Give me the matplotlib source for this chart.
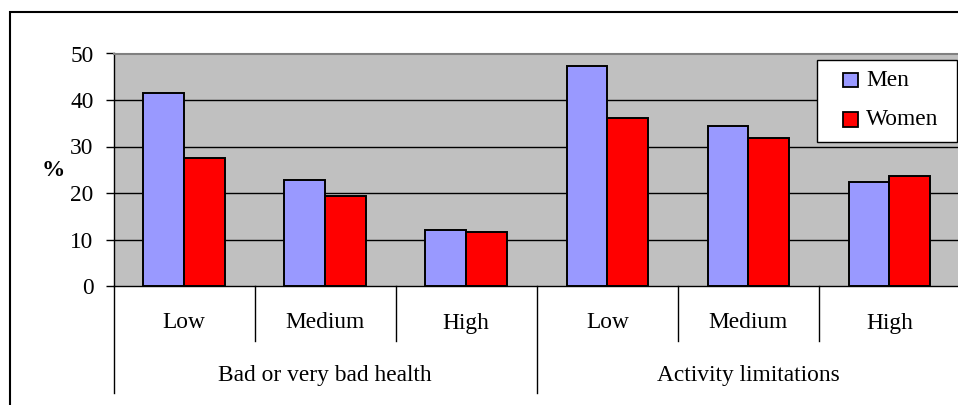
import matplotlib
matplotlib.use("Agg")
import matplotlib.pyplot as plt
from matplotlib.patches import Rectangle
from matplotlib.lines import Line2D
from matplotlib.transforms import Affine2D
import numpy as np

# Survey results (% of people), by education level and sex
groups = ["Bad or very bad health", "Activity limitations"]
levels = ["Low", "Medium", "High"]
series = ["Men", "Women"]
men = [41.4, 22.8, 12.0, 47.4, 34.4, 22.3]
women = [27.5, 19.3, 11.6, 36.1, 31.8, 23.6]
yticks = [0, 10, 20, 30, 40, 50]

plt.rcParams["font.family"] = ["Liberation Serif", "DejaVu Serif"]
FS = 16.8
MEN_C, WOMEN_C = "#9999FF", "#FF0000"

W, H = 958, 405
fig = plt.figure(figsize=(W / 100, H / 100), dpi=100)
# pixel coordinates measured from the top-left corner
px = Affine2D().scale(1 / W, -1 / H).translate(0, 1) + fig.transFigure

# plot area in pixel terms
left_px, right_px, top_px, bottom_px = 113.5, 960.0, 53.5, 286.0
axw = right_px - left_px
axh = bottom_px - top_px
ax = fig.add_axes([left_px / W, 1 - bottom_px / H, axw / W, axh / H])
ax.set_facecolor("#C0C0C0")

n = len(men)
x = np.arange(n)
bw = 0.289
ax.bar(x + 0.5 - bw / 2, men, width=bw, color=MEN_C,
       edgecolor="black", linewidth=1.4, zorder=3)
ax.bar(x + 0.5 + bw / 2, women, width=bw, color=WOMEN_C,
       edgecolor="black", linewidth=1.4, zorder=3)

ax.set_xlim(0, n)
ax.set_ylim(0, 50)
ax.set_yticks(yticks)
ax.set_yticklabels([str(v) for v in yticks], fontsize=FS)
ax.tick_params(axis="y", length=6, width=1, pad=8.4, direction="out")
ax.set_xticks([])
for y in yticks[1:-1]:
    ax.axhline(y, color="black", lw=1, zorder=1)

for side in ("top", "right"):
    ax.spines[side].set_color("#808080")
    ax.spines[side].set_linewidth(1.5)
ax.spines["left"].set_color("black")
ax.spines["left"].set_linewidth(1)
ax.spines["bottom"].set_color("black")
ax.spines["bottom"].set_linewidth(1)

fig.text(53, 170, "%", transform=px, fontsize=FS, fontweight="bold",
         ha="center", va="center")

# two-level category axis
trans = ax.get_xaxis_transform()
inner_y = -(341 - bottom_px) / axh
outer_y = -(392.5 - bottom_px) / axh
for i in range(n + 1):
    low = outer_y if i % 3 == 0 else inner_y
    ax.add_line(Line2D([i, i], [0, low], transform=trans, color="black",
                       lw=1, clip_on=False))
for i in range(n):
    ax.text(i + 0.5, -(323 - bottom_px) / axh, levels[i % 3], transform=trans,
            fontsize=FS, ha="center", va="center")
for g, name in enumerate(groups):
    ax.text(g * 3 + 1.5, -(376 - bottom_px) / axh, name, transform=trans,
            fontsize=FS, ha="center", va="center")

# legend box
fig.add_artist(Rectangle((817, 142), 140, -82, transform=px,
                         facecolor="white", edgecolor="black", lw=1,
                         zorder=10))
for label, color, yc in zip(series, (MEN_C, WOMEN_C), (80, 119.5)):
    fig.add_artist(Rectangle((843.5, yc + 7), 14.5, -14.5, transform=px,
                             facecolor=color, edgecolor="black", lw=1.3,
                             zorder=11))
    fig.text(866, yc, label, transform=px, fontsize=FS, ha="left",
             va="center", zorder=12)

# chart border
fig.add_artist(Rectangle((10 / W, -0.1), 1.2, 1.1 - 12 / H,
                         transform=fig.transFigure, fill=False,
                         edgecolor="black", lw=1.5))

fig.savefig("out.png", dpi=100)
